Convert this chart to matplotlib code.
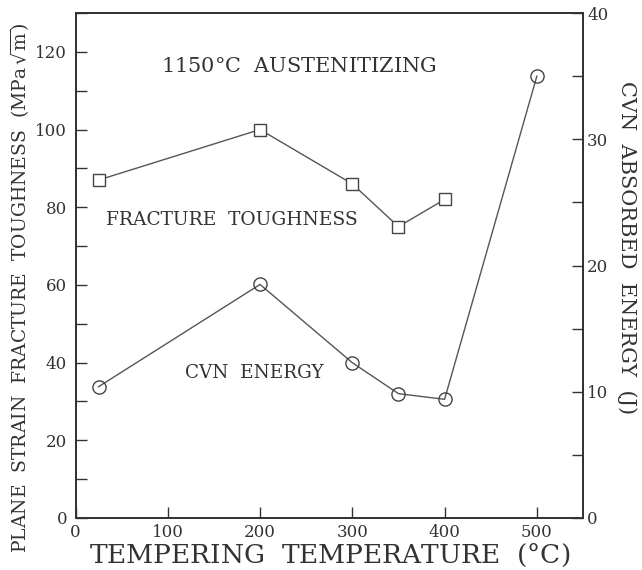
import matplotlib
matplotlib.use("Agg")
import matplotlib.pyplot as plt
from matplotlib.ticker import MultipleLocator

plt.rcParams['font.family'] = ['DejaVu Serif']
plt.rcParams['mathtext.fontset'] = 'dejavuserif'

temp_kic = [25, 200, 300, 350, 400]
kic = [87, 100, 86, 75, 82]
temp_cvn = [25, 200, 300, 350, 400, 500]
cvn_j = [10.4, 18.5, 12.3, 9.85, 9.4, 35.0]

xticks = [0, 100, 200, 300, 400, 500]
yticks_left = [0, 20, 40, 60, 80, 100, 120]
yticks_right = [0, 10, 20, 30, 40]

col = '#333333'
fig = plt.figure(figsize=(6.42, 5.70), dpi=100)
ax = fig.add_axes([75.5/642, 1-518/570, (583-75.5)/642, (518-13)/570])
ax2 = ax.twinx()

ax.plot(temp_kic, kic, color='#555555', lw=1.0, marker='s', ms=8,
        mfc='white', mec='#444444', mew=1.0, zorder=3)
ax2.plot(temp_cvn, cvn_j, color='#555555', lw=1.0, marker='o', ms=9.5,
         mfc='none', mec='#444444', mew=1.0, zorder=3)

ax.set_xlim(0, 550)
ax.set_ylim(0, 130)
ax2.set_ylim(0, 40)
ax.set_xticks(xticks)
ax.set_yticks(yticks_left)
ax.yaxis.set_minor_locator(MultipleLocator(10))
ax2.set_yticks(yticks_right)
ax2.yaxis.set_minor_locator(MultipleLocator(5))

for a in (ax, ax2):
    for s in a.spines.values():
        s.set_linewidth(1.3)
        s.set_color(col)
ax.tick_params(axis='both', which='both', direction='in', length=8, width=1.0,
               colors=col, labelsize=12, top=False)
ax.tick_params(axis='x', pad=4)
ax.tick_params(axis='y', pad=6)
ax2.tick_params(axis='y', which='both', direction='in', length=8, width=1.0,
                colors=col, labelsize=12, pad=3)

ax.set_xlabel('TEMPERING  TEMPERATURE  ($\\degree$C)', fontsize=19, color=col, labelpad=0)
fig.text(20/642, 1-288/570,
         'PLANE  STRAIN  FRACTURE  TOUGHNESS  (MPa$\\,\\sqrt{\\rm m}$)',
         rotation=90, ha='center', va='center', fontsize=13.5, color=col)
fig.text(627/642, 1-248/570, 'CVN  ABSORBED  ENERGY  (J)',
         rotation=270, ha='center', va='center', fontsize=15, color=col)

ax.text(92.7, 116.1, '1150$\\degree$C  AUSTENITIZING', fontsize=15, color=col, va='center')
ax.text(33, 76.7, 'FRACTURE  TOUGHNESS', fontsize=13.4, color=col, va='center')
ax.text(118.6, 37.3, 'CVN  ENERGY', fontsize=13.2, color=col, va='center')

fig.savefig('out.png', dpi=100)
